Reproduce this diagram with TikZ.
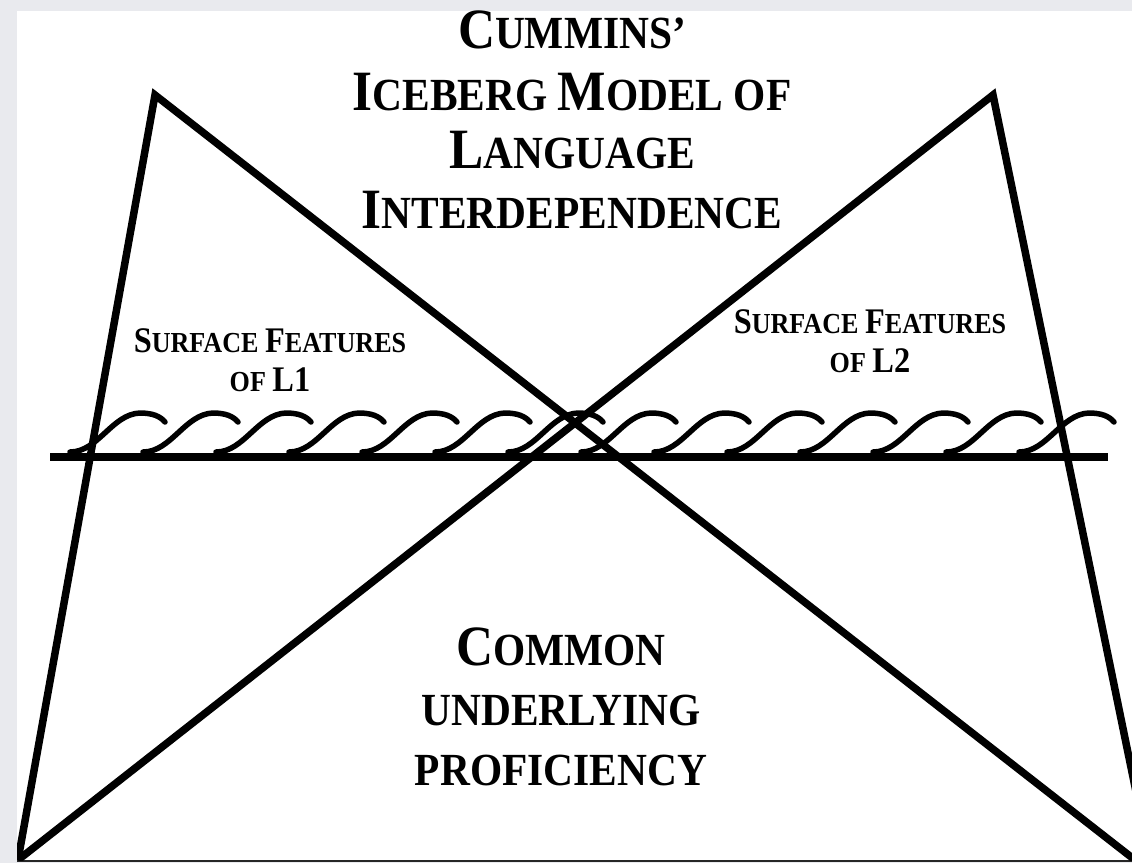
\documentclass[tikz,border=0pt]{standalone}
\usepackage{fontspec}
\setmainfont{Liberation Serif}[FakeStretch=0.9]
\definecolor{bggray}{RGB}{233,234,238}
\newcommand\tbig{\fontsize{57}{60}\selectfont}
\newcommand\tsmall{\fontsize{46}{60}\selectfont}
\newcommand\fbig{\fontsize{36}{40}\selectfont}
\newcommand\fsmall{\fontsize{29}{40}\selectfont}
\begin{document}
\begin{tikzpicture}[x=1pt,y=-1pt,
  heavy/.style={line width=7.5pt, line join=miter, miter limit=20},
  wave/.style={line width=5.5pt, line cap=round},
  lbl/.style={anchor=base, inner sep=0pt, font=\bfseries}]
\useasboundingbox (0,0) rectangle (1132,863);
\fill[bggray] (0,0) rectangle (1132,863);
\fill[white] (17,11) rectangle (1132,860);
\draw[line width=2pt, black!85] (17,861) -- (1132,861);
\coordinate (A1) at (155,95);
\coordinate (A2) at (993,95);
\coordinate (B1) at (18,860);
\coordinate (B2) at (1135,860);
\coordinate (B3) at (1150,860);
\coordinate (H1) at (50,457);
\coordinate (H2) at (1108,457);
\begin{scope}
\clip (17,11) rectangle (1132,860);
\draw[heavy] (B1) -- (A1) -- (B2);
\draw[heavy] (B3) -- (A2) -- (B1);
\draw[line width=7.5pt] (H1) -- (H2);
\foreach \i in {0,...,13} {
  \pgfmathsetmacro\x{70+73*\i}
  \draw[wave] (\x,452) .. controls (\x+28,452) and (\x+42,414) .. (\x+70,413)
     .. controls (\x+82,413) and (\x+90,416) .. (\x+95,422);
}
\end{scope}
\node[lbl] (t1) at (572,48) {\tbig C\tsmall UMMINS’};
\node[lbl] (t2) at (572,110) {\tbig I\tsmall CEBERG \tbig M\tsmall ODEL OF};
\node[lbl] (t3) at (572,168) {\tbig L\tsmall ANGUAGE};
\node[lbl] (t4) at (572,228) {\tbig I\tsmall NTERDEPENDENCE};
\node[lbl] (s1a) at (270,352) {\fbig S\fsmall URFACE \fbig F\fsmall EATURES};
\node[lbl] (s1b) at (270,391) {\fsmall OF \fbig L1};
\node[lbl] (s2a) at (870,333) {\fbig S\fsmall URFACE \fbig F\fsmall EATURES};
\node[lbl] (s2b) at (870,372) {\fsmall OF \fbig L2};
\node[lbl] (c1) at (561,665) {\tbig C\tsmall OMMON};
\node[lbl] (c2) at (561,725) {\tsmall UNDERLYING};
\node[lbl] (c3) at (561,785) {\tsmall PROFICIENCY};
\end{tikzpicture}
\end{document}
